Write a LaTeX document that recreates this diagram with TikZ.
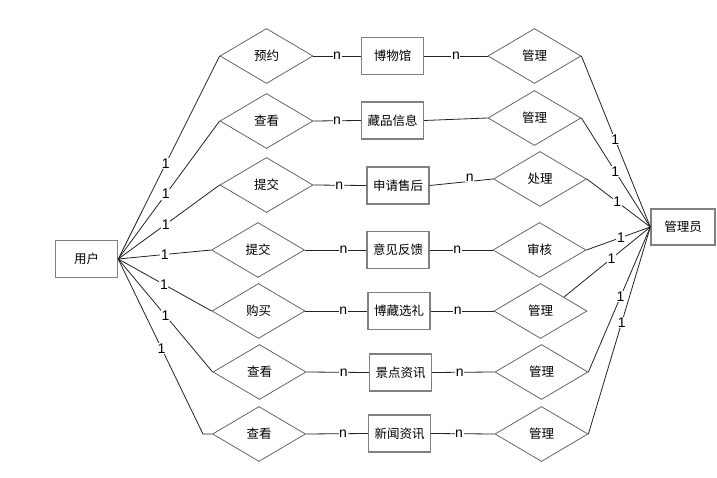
\documentclass[tikz,border=0pt]{standalone}
\usepackage{fontspec}
\setmainfont{Liberation Sans}
\newfontfamily\cjk{Noto Sans CJK SC}
\usetikzlibrary{shapes.geometric}
\definecolor{boxgray}{HTML}{808080}
\definecolor{diagray}{HTML}{666666}
\definecolor{linecol}{HTML}{222222}
\tikzset{
  entbox/.style={draw=boxgray, line width=1.4pt, minimum width=62pt, minimum height=37pt, inner sep=0pt, font=\cjk\fontsize{12.5}{14}\selectfont},
  reldia/.style={diamond, draw=diagray, line width=0.8pt, minimum width=93pt, minimum height=55pt, aspect=1.7, inner sep=0pt, font=\cjk\fontsize{12.5}{14}\selectfont},
  conn/.style={draw=linecol, line width=0.8pt},
  lbl/.style={fill=white, inner sep=0.6pt, font=\fontsize{14}{15}\selectfont}
}
\begin{document}
\begin{tikzpicture}[x=1pt,y=-1pt]
\useasboundingbox (0,0) rectangle (717,478);
% entities
\node[entbox] (user) at (86.5,259) {用户};
\node[entbox, minimum width=64pt, minimum height=36pt] (admin) at (683,227) {管理员};
\node[entbox] (e1) at (392.5,56) {博物馆};
\node[entbox] (e2) at (392.5,120.5) {藏品信息};
\node[entbox] (e3) at (398,185.5) {申请售后};
\node[entbox] (e4) at (398,250) {意见反馈};
\node[entbox] (e5) at (399,311) {博藏选礼};
\node[entbox] (e6) at (400.5,372.5) {景点资讯};
\node[entbox] (e7) at (399.5,433.5) {新闻资讯};
% left relations
\node[reldia] (d1) at (266.5,56) {预约};
\node[reldia] (d2) at (266.5,121) {查看};
\node[reldia] (d3) at (266.5,185) {提交};
\node[reldia] (d4) at (258,250) {提交};
\node[reldia] (d5) at (258.5,311) {购买};
\node[reldia] (d6) at (259.5,372) {查看};
\node[reldia] (d7) at (259,434) {查看};
% right relations
\node[reldia] (m1) at (534.5,56) {管理};
\node[reldia] (m2) at (534.5,118) {管理};
\node[reldia] (m3) at (540,179) {处理};
\node[reldia] (m4) at (539.5,250) {审核};
\node[reldia] (m5) at (540.5,311) {管理};
\node[reldia] (m6) at (541.5,372) {管理};
\node[reldia] (m7) at (541.5,434) {管理};
\coordinate (k7) at (203,434);
% user to left relations
\draw[conn] (user.east) -- node[lbl,pos=0.47] {1} (d1.west);
\draw[conn] (user.east) -- node[lbl,pos=0.47] {1} (d2.west);
\draw[conn] (user.east) -- node[lbl,pos=0.47] {1} (d3.west);
\draw[conn] (user.east) -- node[lbl,pos=0.5] {1} (d4.west);
\draw[conn] (user.east) -- node[lbl,pos=0.49] {1} (d5.west);
\draw[conn] (user.east) -- node[lbl,pos=0.5] {1} (d6.west);
\draw[conn] (user.east) -- node[lbl,pos=0.51] {1} (k7) -- (d7.west);
% left relations to entities
\draw[conn] (d1.east) -- node[lbl,pos=0.5] {n} (e1.west);
\draw[conn] (d2.east) -- node[lbl,pos=0.5] {n} (e2.west);
\draw[conn] (d3.east) -- node[lbl,pos=0.49] {n} (e3.west);
\draw[conn] (d4.east) -- node[lbl,pos=0.63] {n} (e4.west);
\draw[conn] (d5.east) -- node[lbl,pos=0.61] {n} (e5.west);
\draw[conn] (d6.east) -- node[lbl,pos=0.6] {n} (e6.west);
\draw[conn] (d7.east) -- node[lbl,pos=0.6] {n} (e7.west);
% entities to right relations
\draw[conn] (e1.east) -- node[lbl,pos=0.5] {n} (m1.west);
\draw[conn] (e2.east) -- (m2.west);
\draw[conn] (e3.east) -- node[lbl,pos=0.63,anchor=south,yshift=-1pt] {n} (m3.west);
\draw[conn] (e4.east) -- node[lbl,pos=0.44] {n} (m4.west);
\draw[conn] (e5.east) -- node[lbl,pos=0.43] {n} (m5.west);
\draw[conn] (e6.east) -- node[lbl,pos=0.44] {n} (m6.west);
\draw[conn] (e7.east) -- node[lbl,pos=0.44] {n} (m7.west);
% right relations to admin
\draw[conn] (m1.east) -- node[lbl,pos=0.49] {1} (admin.west);
\draw[conn] (m2.east) -- node[lbl,pos=0.49] {1} (admin.west);
\draw[conn] (m3.east) -- node[lbl,pos=0.48] {1} (admin.west);
\draw[conn] (m4.east) -- node[lbl,pos=0.54] {1} (admin.west);
\draw[conn] (m5.north east) -- node[lbl,pos=0.55] {1} (admin.west);
\draw[conn] (m6.east) -- node[lbl,pos=0.52] {1} (admin.west);
\draw[conn] (m7.east) -- node[lbl,pos=0.54] {1} (admin.west);
\end{tikzpicture}
\end{document}
